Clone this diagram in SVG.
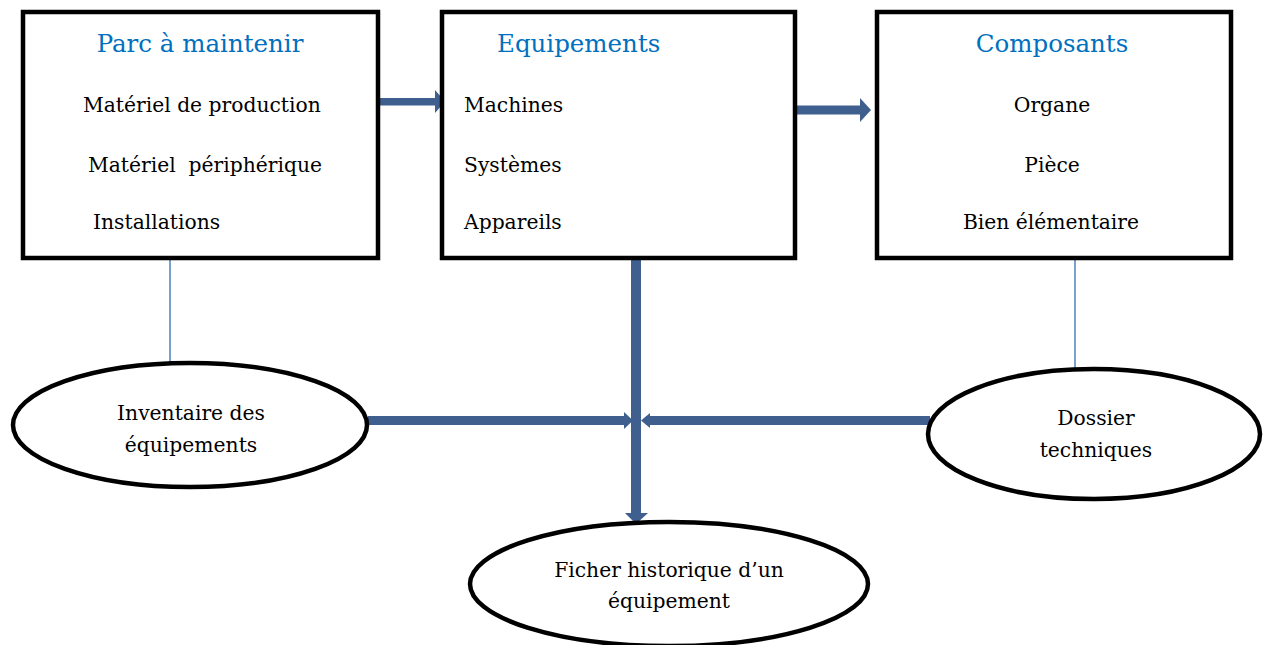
<svg xmlns="http://www.w3.org/2000/svg" width="1266" height="645" viewBox="0 0 1266 645">
  <style>
    .box { fill: #ffffff; stroke: #000000; stroke-width: 4.5; }
    .oval { fill: #ffffff; stroke: #000000; stroke-width: 4.5; }
    .title { font-family: "DejaVu Serif", "Liberation Serif", serif; font-size: 24.5px; fill: #0070c0; }
    .item { font-family: "DejaVu Serif", "Liberation Serif", serif; font-size: 20.3px; fill: #000000; }
    .mid { text-anchor: middle; }
    .flow { fill: #3f5f8f; stroke: none; }
    .thin { stroke: #4f81bd; stroke-width: 1.5; fill: none; }
  </style>

  <!-- connectors -->
  <g id="connectors">
    <line class="thin" x1="170" y1="259" x2="170" y2="363"/>
    <line class="thin" x1="1075" y1="259" x2="1075" y2="369"/>
    <!-- parc -> equipements -->
    <rect class="flow" x="378" y="98" width="58" height="7.5"/>
    <polygon class="flow" points="435,90 445,101.5 435,113"/>
    <!-- equipements -> composants -->
    <rect class="flow" x="795" y="105.5" width="66" height="9"/>
    <polygon class="flow" points="860,98 871,110 860,122"/>
    <!-- inventaire -> trunk -->
    <rect class="flow" x="368" y="416" width="258" height="9"/>
    <polygon class="flow" points="624,412 633,420.5 624,429"/>
    <!-- dossier -> trunk -->
    <rect class="flow" x="646" y="416" width="284" height="9"/>
    <polygon class="flow" points="650,413 641,420.5 650,428"/>
    <!-- equipements -> fiche historique -->
    <rect class="flow" x="631" y="259" width="10" height="255"/>
    <polygon class="flow" points="625,513 636,524 648,513"/>
  </g>

  <g id="parc">
    <rect class="box" x="23" y="12" width="355" height="246"/>
    <text class="title mid" x="200" y="52">Parc à maintenir</text>
    <text class="item" x="83" y="112">Matériel de production</text>
    <text class="item" x="88" y="172" xml:space="preserve">Matériel  périphérique</text>
    <text class="item" x="93" y="229">Installations</text>
  </g>

  <g id="equipements">
    <rect class="box" x="442" y="12" width="353" height="246"/>
    <text class="title" x="497" y="52">Equipements</text>
    <text class="item" x="464" y="112">Machines</text>
    <text class="item" x="464" y="172">Systèmes</text>
    <text class="item" x="464" y="229">Appareils</text>
  </g>

  <g id="composants">
    <rect class="box" x="877" y="12" width="354" height="246"/>
    <text class="title mid" x="1052" y="52">Composants</text>
    <text class="item mid" x="1052" y="112">Organe</text>
    <text class="item mid" x="1052" y="172">Pièce</text>
    <text class="item mid" x="1051" y="229">Bien élémentaire</text>
  </g>

  <g id="inventaire">
    <ellipse class="oval" cx="190" cy="425" rx="177" ry="62"/>
    <text class="item mid" x="191" y="420">Inventaire des</text>
    <text class="item mid" x="191" y="452">équipements</text>
  </g>

  <g id="dossier">
    <ellipse class="oval" cx="1094" cy="434" rx="166" ry="65"/>
    <text class="item mid" x="1096" y="425">Dossier</text>
    <text class="item mid" x="1096" y="457">techniques</text>
  </g>

  <g id="fiche">
    <ellipse class="oval" cx="669" cy="584" rx="199" ry="62"/>
    <text class="item mid" x="669" y="577">Ficher historique d’un</text>
    <text class="item mid" x="669" y="608">équipement</text>
  </g>
</svg>
